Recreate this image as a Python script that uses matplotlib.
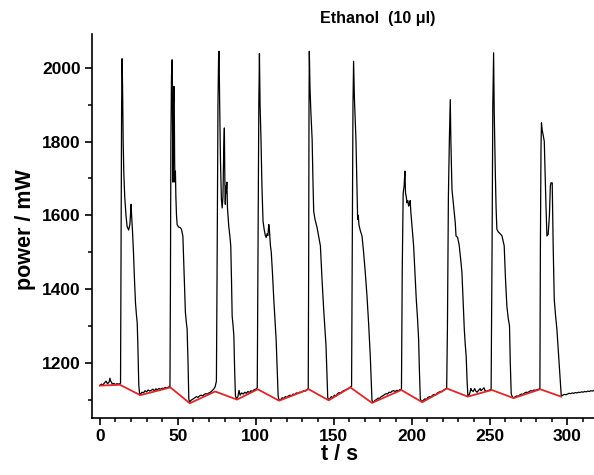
import matplotlib
matplotlib.use("Agg")
from matplotlib import pyplot as plt
from matplotlib.ticker import MultipleLocator

# signal trace
time_s = [
    0, 1, 2, 3, 4, 5, 6, 6.5, 7, 7.5, 8, 9, 10, 11, 12, 13, 13.3,
    13.6, 14.0, 14.3, 14.6, 15.0, 15.4, 16, 16.8, 17.5, 18.5, 19.3, 19.8, 20.1, 20.4, 21.0, 21.6,
    22.3, 22.9, 23.5, 24.0, 24.4, 25.0, 25.6, 26.2,
    27, 28, 29, 30, 31, 32, 33, 34, 35, 36, 37, 38, 39, 40, 41, 42, 43, 44, 45,
    45.3, 45.6, 46.0, 46.4, 46.7, 46.9, 47.2, 47.5, 47.7, 48.0, 48.2, 48.5, 48.8, 49.2, 49.6,
    50.5, 51.5, 52.4, 53.3, 54.0, 54.9, 55.5, 56.0, 56.6, 57.1, 57.6,
    58.5, 60, 61, 62, 63, 64, 65, 66, 67, 68, 69, 70, 71, 72, 73, 74, 74.8,
    75.3, 75.8, 76.2, 76.5, 76.9, 77.4, 78, 78.5, 79.0, 79.5, 79.9, 80.2, 80.5, 80.8, 81.1, 81.5,
    81.9, 82.7, 83.4, 84, 84.5, 84.9, 85.5, 86, 86.5, 87, 87.8,
    88.6, 89.3, 90, 91, 92, 93, 94, 95, 96, 97, 98, 99, 100, 101,
    101.5, 102.0, 102.4, 102.8, 103.4, 104, 104.7, 105.5, 106.2, 106.7, 107.3, 107.8, 108.4, 108.8,
    109.4, 110, 110.8, 111.6, 112.3, 113.1, 113.8, 114.4, 115,
    116, 117, 118, 119, 120, 121, 122, 123, 124, 125, 126, 127, 128, 129, 130, 131, 132, 133, 133.7,
    134.0, 134.2, 134.4, 134.8, 135.4, 136.2, 136.7, 137.2, 138, 139.4, 140.5, 141.5, 142.5, 143.6,
    144.4, 145.1, 145.7, 146.2, 146.8,
    147.5, 148.5, 149.5, 150.5, 151.5, 152.5, 153.5, 154.5, 155.5, 156.5, 157.5, 158.5, 159.5, 160.7, 161.5,
    161.9, 162.4, 162.8, 163.3, 164.3, 164.9, 165.4, 165.8, 166.2, 167, 168.2, 169.2, 170.3, 171.4,
    172.4, 173.5, 174.1, 174.6,
    175.5, 176.5, 177.5, 178.5, 179.5, 180.5, 181.5, 182.5, 183.5, 184.5, 185.5, 186.5, 187.5, 188.5,
    189.5, 190.5, 191.5, 192.5, 193.5,
    194.0, 194.6, 195.2, 195.7, 196.1, 196.6, 197.0, 197.6, 198.1, 198.6, 199.1, 199.5, 200.3, 201.3,
    202.1, 203, 203.8, 204.5, 205, 205.6, 206.5,
    207.5, 208.5, 209.5, 210.5, 211.5, 212.5, 213.5, 214.5, 215.5, 216.5, 217.5, 218.5, 219.5, 220.5,
    221.5, 222.5,
    223, 223.6, 224.2, 224.8, 225.2, 225.9, 226.6, 227.0, 227.4, 228, 228.5, 229.5, 230.5, 231.5,
    232.3, 233, 233.8, 234.4, 235, 235.6, 236.1,
    236.8, 237.5, 238, 238.5, 239.5, 240.5, 241, 242, 243, 244, 244.5, 245.5, 246.5, 247, 248, 249, 250, 251,
    251.6, 252.1, 252.6, 253, 253.7, 254.2, 254.7, 255.6, 256.8, 258, 258.7, 259.4, 260.2, 261.1,
    262, 262.8, 263.3, 263.9, 264.6,
    265.5, 266.5, 267.5, 268.5, 269.5, 270.5, 271.5, 272.5, 273.5, 274.5, 275.5, 276.5, 277.5, 278.5,
    279.5, 280.5, 281.5, 282.3,
    282.6, 283.0, 283.3, 283.8, 284.3, 285.1, 285.6, 286.2, 286.8, 287.6, 288.4, 289.0, 289.4, 290.2,
    290.8, 291.5, 292.3, 293.2, 294.3, 295.3, 296,
    297, 298, 299, 300, 301, 302, 303, 304, 305, 306, 307, 308, 309, 310, 311, 312, 313, 314, 315, 316, 317,
]
power_mw = [
    1138, 1142, 1140, 1145, 1150, 1143, 1148, 1158, 1150, 1147, 1142, 1144, 1141, 1143, 1142, 1143, 1145,
    1500, 1900, 2025, 1950, 1800, 1715, 1650, 1600, 1570, 1560, 1575, 1610, 1630, 1600, 1555, 1500,
    1420, 1362, 1330, 1308, 1250, 1140, 1112, 1115,
    1120, 1118, 1124, 1121, 1126, 1123, 1125, 1128, 1124, 1129, 1127, 1130, 1128, 1131, 1130, 1133, 1131, 1134, 1135,
    1400, 1800, 1980, 2022, 1800, 1690, 1900, 1950, 1945, 1750, 1690, 1720, 1650, 1600, 1575,
    1568, 1567, 1562, 1543, 1450, 1337, 1310, 1292, 1200, 1101, 1093,
    1098, 1102, 1105, 1108, 1106, 1110, 1112, 1110, 1114, 1116, 1115, 1118, 1120, 1124, 1128, 1135, 1150,
    1500, 1900, 2030, 2045, 1900, 1750, 1643, 1620, 1650, 1780, 1837, 1700, 1630, 1680, 1660, 1690,
    1620, 1571, 1545, 1517, 1420, 1327, 1300, 1273, 1180, 1110, 1102,
    1108, 1125, 1112, 1118, 1115, 1120, 1117, 1122, 1119, 1124, 1122, 1127, 1128, 1132,
    1500, 1900, 2039, 1900, 1806, 1680, 1584, 1560, 1545, 1540, 1550, 1545, 1575, 1560,
    1520, 1499, 1440, 1372, 1320, 1264, 1180, 1110, 1098,
    1100, 1105, 1103, 1108, 1106, 1110, 1112, 1110, 1115, 1113, 1118, 1117, 1120, 1119, 1122, 1124, 1123, 1127, 1130,
    1500, 1900, 2045, 1950, 1880, 1806, 1700, 1611, 1590, 1566, 1540, 1517, 1430, 1345,
    1290, 1246, 1170, 1106, 1098,
    1102, 1108, 1105, 1112, 1110, 1116, 1119, 1117, 1122, 1124, 1126, 1128, 1130, 1134, 1136,
    1500, 1900, 2018, 1920, 1806, 1680, 1589, 1600, 1575, 1560, 1544, 1500, 1444, 1380,
    1309, 1218, 1150, 1097,
    1092, 1098, 1100, 1104, 1103, 1108, 1110, 1113, 1116, 1115, 1120, 1119, 1123, 1124,
    1122, 1125, 1124, 1127, 1128,
    1450, 1660, 1680, 1720, 1661, 1650, 1634, 1640, 1625, 1630, 1640, 1610, 1570, 1517,
    1450, 1372, 1320, 1264, 1180, 1101, 1094,
    1098, 1102, 1100, 1106, 1108, 1107, 1112, 1114, 1113, 1118, 1120, 1122, 1121, 1126,
    1128, 1131,
    1300, 1650, 1800, 1914, 1800, 1670, 1640, 1620, 1607, 1580, 1544, 1540, 1520, 1480,
    1444, 1370, 1291, 1250, 1218, 1150, 1110,
    1112, 1120, 1130, 1125, 1122, 1130, 1124, 1120, 1125, 1130, 1124, 1128, 1132, 1125, 1122, 1124, 1126, 1128,
    1500, 1900, 2041, 1880, 1716, 1620, 1562, 1555, 1550, 1544, 1530, 1517, 1430, 1354,
    1320, 1300, 1200, 1115, 1108,
    1104, 1108, 1110, 1109, 1113, 1115, 1114, 1118, 1120, 1119, 1122, 1124, 1123, 1126,
    1125, 1127, 1128, 1130,
    1500, 1780, 1851, 1830, 1820, 1801, 1720, 1625, 1544, 1548, 1600, 1680, 1688, 1688,
    1520, 1372, 1330, 1291, 1220, 1160, 1110,
    1112, 1114, 1113, 1115, 1117, 1116, 1118, 1117, 1119, 1118, 1120, 1119, 1121, 1120, 1122, 1121, 1123, 1122, 1124, 1123, 1125,
]

# baseline (red) vertices
base_t = [0, 13, 26, 45.3, 57.7, 74, 88, 101.3, 115, 134, 146.8, 160.7, 174.6, 193.4, 206.8,
          222.7, 236, 251.5, 265.4, 282.5, 296]
base_p = [1138, 1140, 1112, 1133, 1090, 1122, 1100, 1128, 1097, 1128, 1098, 1133, 1091, 1126, 1093,
          1130, 1108, 1126, 1104, 1128, 1108]

plt.rcParams['font.family'] = ['Liberation Sans', 'DejaVu Sans']
plt.rcParams['font.weight'] = 'bold'

fig = plt.figure(figsize=(5.94, 4.75), dpi=100)
ax = fig.add_axes([92 / 594, 57 / 475, 1 - 92 / 594, (418 - 34) / 475])

ax.plot(time_s, power_mw, color='black', lw=0.9)
ax.plot(base_t, base_p, color='#e0262a', lw=1.3)

ax.set_xlim(-5, 317)
ax.set_ylim(1050, 2092)
ax.xaxis.set_major_locator(MultipleLocator(50))
ax.xaxis.set_minor_locator(MultipleLocator(10))
ax.yaxis.set_major_locator(MultipleLocator(200))
ax.yaxis.set_minor_locator(MultipleLocator(100))

for s in ['top', 'right']:
    ax.spines[s].set_visible(False)
for s in ['left', 'bottom']:
    ax.spines[s].set_linewidth(1.2)

ax.tick_params(which='major', length=5, width=1.2, labelsize=12.5, pad=3)
ax.tick_params(which='minor', length=3, width=1.1)
for lab in ax.get_xticklabels() + ax.get_yticklabels():
    lab.set_fontweight('bold')

fig.text(340 / 594, 1 - 455 / 475, 't / s', ha='center', va='center', fontsize=15.5, fontweight='bold')
fig.text(25 / 594, 1 - 230 / 475, 'power / mW', ha='center', va='center', rotation=90,
         fontsize=15.5, fontweight='bold')
fig.text(378 / 594, 1 - 19 / 475, 'Ethanol  (10 \u03bcl)', ha='center', va='center',
         fontsize=11.5, fontweight='bold')

fig.savefig('out.png', dpi=100)
